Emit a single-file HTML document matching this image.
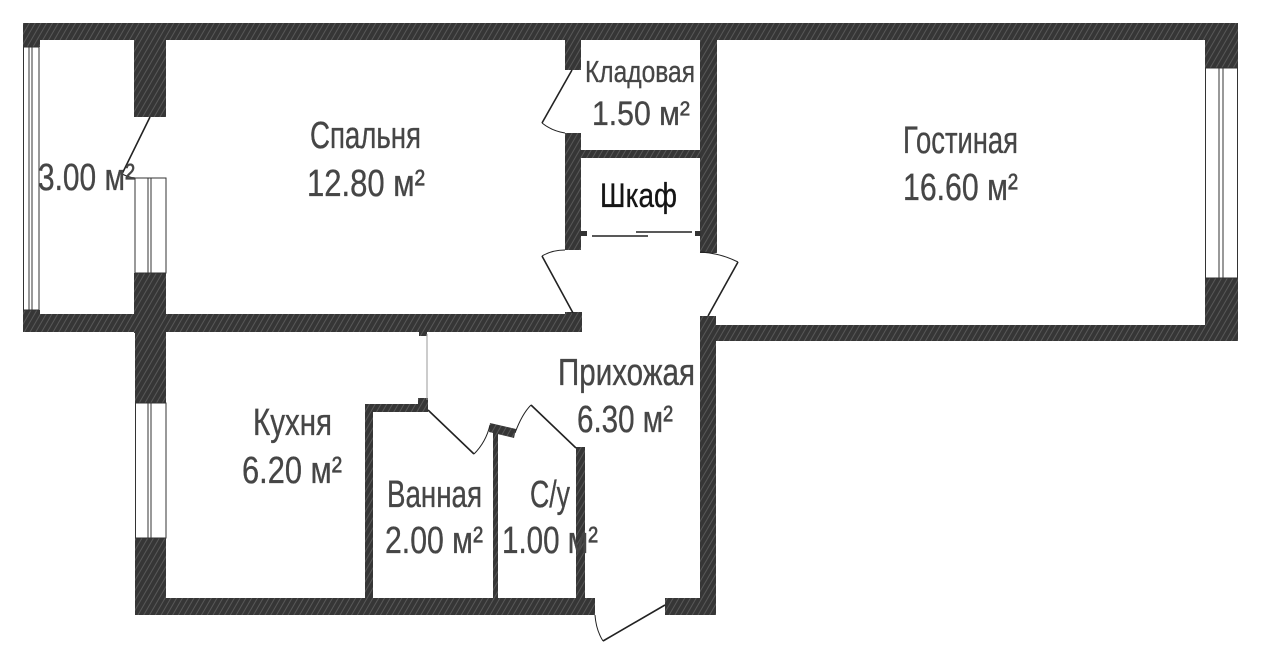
<!DOCTYPE html>
<html><head><meta charset="utf-8"><style>
html,body{margin:0;padding:0;background:#fff;}
svg{display:block;}
text{font-family:"Liberation Sans",sans-serif;fill:#464646;stroke:#464646;stroke-width:0.35;}
</style></head><body>
<svg width="1263" height="645" viewBox="0 0 1263 645" xmlns="http://www.w3.org/2000/svg">
<defs>
<pattern id="h" patternUnits="userSpaceOnUse" width="5" height="10" patternTransform="rotate(30)">
<rect width="5" height="10" fill="#363636"/>
<line x1="2" y1="0" x2="2" y2="10" stroke="#5c5c5c" stroke-width="0.9"/>
</pattern>
</defs>
<rect width="1263" height="645" fill="#fff"/>
<g fill="url(#h)">
<rect x="23" y="23" width="1215" height="17"/>
<rect x="23" y="23" width="17" height="24"/>
<rect x="23" y="310" width="17" height="22"/>
<rect x="23" y="314" width="559" height="18"/>
<rect x="134" y="40" width="32" height="77"/>
<rect x="134" y="273" width="32" height="60"/>
<rect x="135" y="330" width="31" height="73"/>
<rect x="135" y="538" width="31" height="77"/>
<rect x="135" y="598" width="460" height="17"/>
<rect x="565" y="40" width="16" height="30"/>
<rect x="565" y="133" width="16" height="117"/>
<rect x="565" y="312" width="17" height="20"/>
<rect x="700" y="40" width="17" height="213"/>
<rect x="581" y="150" width="119" height="8"/>
<rect x="700" y="316" width="16" height="299"/>
<rect x="716" y="325" width="522" height="16"/>
<rect x="1205" y="23" width="33" height="45"/>
<rect x="1205" y="278" width="33" height="63"/>
<rect x="365" y="404" width="8" height="194"/>
<rect x="365" y="404" width="63" height="8"/>
<rect x="418" y="398" width="10" height="14"/>
<rect x="419" y="330" width="8" height="6"/>
<rect x="493" y="425" width="5" height="173"/>
<polygon points="490,423 516,429 514,438 489,432"/>
<rect x="576" y="447" width="9" height="151"/>
<rect x="665" y="598" width="51" height="17"/>
</g>
<g fill="none" stroke="#333" stroke-width="1">
<rect x="23.5" y="47" width="15.5" height="263"/>
<line x1="29" y1="47" x2="29" y2="310"/>
<line x1="32" y1="47" x2="32" y2="310"/>
<rect x="135" y="178" width="31" height="95"/>
<line x1="148" y1="178" x2="148" y2="273"/>
<line x1="151" y1="178" x2="151" y2="273"/>
<rect x="135.5" y="403" width="30.5" height="135"/>
<line x1="148" y1="403" x2="148" y2="538"/>
<line x1="151" y1="403" x2="151" y2="538"/>
<rect x="1205.5" y="68" width="32" height="210"/>
<line x1="1219" y1="68" x2="1219" y2="278"/>
<line x1="1223" y1="68" x2="1223" y2="278"/>
<line x1="427" y1="334" x2="427" y2="400" stroke="#999"/>
</g>
<g fill="none" stroke="#222" stroke-width="1.6">
<line x1="150" y1="117" x2="122" y2="174"/>
<path d="M122 174 Q128 177 135 178" stroke-width="1"/>
<line x1="572" y1="70" x2="542" y2="123"/>
<path d="M542 123 Q552 131 565 133" stroke-width="1"/>
<path d="M542 256 Q552 250 565 250" stroke-width="1"/>
<line x1="542" y1="256" x2="573" y2="313"/>
<path d="M700 252 Q720 253 738 262" stroke-width="1"/>
<line x1="738" y1="262" x2="708" y2="316"/>
<line x1="428" y1="410" x2="474" y2="454"/>
<path d="M474 454 Q486 442 490 425" stroke-width="1"/>
<path d="M515 433 Q522 414 531 405" stroke-width="1"/>
<line x1="531" y1="405" x2="576" y2="448"/>
<path d="M595 615 Q596 630 603 641" stroke-width="1"/>
<line x1="603" y1="641" x2="665" y2="605"/>
<line x1="592" y1="236" x2="648" y2="236"/>
<line x1="636" y1="232" x2="692" y2="232"/>
</g>
<rect x="581" y="231" width="6" height="5" fill="#333"/>
<rect x="695" y="231" width="6" height="5" fill="#333"/>
<g font-size="38">
<text x="310" y="148" textLength="111" lengthAdjust="spacingAndGlyphs">Спальня</text>
<text x="307" y="196" textLength="118" lengthAdjust="spacingAndGlyphs">12.80 м²</text>
<text x="38" y="190" textLength="97" lengthAdjust="spacingAndGlyphs">3.00 м²</text>
<text x="903" y="153" textLength="115" lengthAdjust="spacingAndGlyphs">Гостиная</text>
<text x="903" y="200" textLength="115" lengthAdjust="spacingAndGlyphs">16.60 м²</text>
<text x="558" y="385" textLength="137" lengthAdjust="spacingAndGlyphs">Прихожая</text>
<text x="577" y="432" textLength="96" lengthAdjust="spacingAndGlyphs">6.30 м²</text>
<text x="253" y="435" textLength="79" lengthAdjust="spacingAndGlyphs">Кухня</text>
<text x="242" y="483" textLength="100" lengthAdjust="spacingAndGlyphs">6.20 м²</text>
<text x="387" y="507" textLength="95" lengthAdjust="spacingAndGlyphs">Ванная</text>
<text x="385" y="553" textLength="98" lengthAdjust="spacingAndGlyphs">2.00 м²</text>
<text x="530" y="507" textLength="40" lengthAdjust="spacingAndGlyphs">С/у</text>
<text x="502" y="553" textLength="96" lengthAdjust="spacingAndGlyphs">1.00 м²</text>
</g>
<text x="585" y="82" font-size="31" textLength="110" lengthAdjust="spacingAndGlyphs">Кладовая</text>
<text x="592" y="125" font-size="34" textLength="98" lengthAdjust="spacingAndGlyphs">1.50 м²</text>
<text x="600" y="207" font-size="34" textLength="77" lengthAdjust="spacingAndGlyphs" style="fill:#151515;stroke:#151515">Шкаф</text>
</svg>
</body></html>
